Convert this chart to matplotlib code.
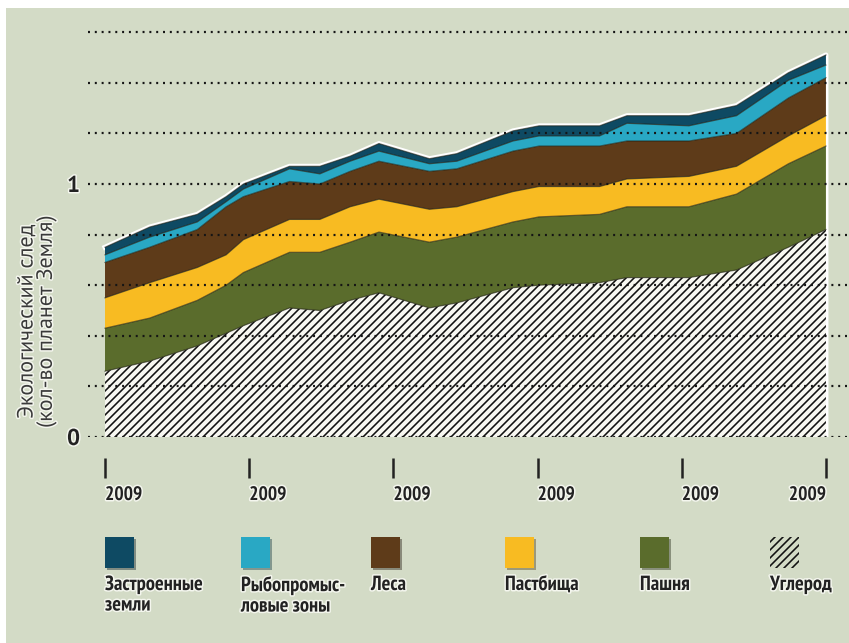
import numpy as np
import matplotlib
matplotlib.use('Agg')
import matplotlib.pyplot as plt
import matplotlib.patheffects as pe
from matplotlib.patches import Rectangle

# tick labels (all the same on the original)
years = ['2009'] * 6

# positions along the time axis (tick = 0..5)
x = [0.0, 0.31, 0.64, 0.84, 0.96, 1.28, 1.49, 1.70, 1.90, 2.25,
     2.44, 2.83, 3.01, 3.43, 3.62, 4.05, 4.38, 4.74, 5.0]

# layer thickness, planets (bottom -> top)
carbon = [0.26, 0.30, 0.36, 0.41, 0.44, 0.51, 0.50, 0.54, 0.57, 0.51,
          0.53, 0.59, 0.60, 0.61, 0.63, 0.63, 0.66, 0.75, 0.82]
cropland = [0.17, 0.17, 0.18, 0.19, 0.21, 0.22, 0.23, 0.23, 0.24, 0.26,
            0.26, 0.26, 0.27, 0.27, 0.28, 0.28, 0.30, 0.33, 0.33]
pasture = [0.12, 0.14, 0.13, 0.12, 0.13, 0.13, 0.13, 0.14, 0.13, 0.13,
           0.12, 0.12, 0.12, 0.11, 0.11, 0.12, 0.11, 0.11, 0.12]
forest = [0.14, 0.14, 0.15, 0.19, 0.17, 0.15, 0.14, 0.14, 0.15, 0.15,
          0.15, 0.16, 0.16, 0.16, 0.15, 0.14, 0.13, 0.15, 0.15]
fishing = [0.03, 0.04, 0.03, 0.02, 0.03, 0.05, 0.04, 0.04, 0.04, 0.03,
           0.03, 0.04, 0.04, 0.04, 0.07, 0.06, 0.07, 0.07, 0.05]
built = [0.03, 0.04, 0.03, 0.02, 0.02, 0.01, 0.03, 0.02, 0.03, 0.02,
         0.03, 0.04, 0.04, 0.04, 0.03, 0.04, 0.04, 0.03, 0.04]

names = ['Застроенные\nземли', 'Рыбопромыс-\nловые зоны', 'Леса',
         'Пастбища', 'Пашня', 'Углерод']
colors = ['#0e4a63', '#29a8c4', '#5e3b19', '#f8bb22', '#5a6c2c']

narrow = ['PT Sans Narrow', 'Roboto Condensed', 'DejaVu Sans']
plain = ['PT Sans', 'Open Sans', 'DejaVu Sans']
halo = [pe.withStroke(linewidth=3, foreground='#f4f6ee')]

plt.rcParams['hatch.linewidth'] = 1.6
plt.rcParams['hatch.color'] = '#111111'

W, H = 849, 643
fig = plt.figure(figsize=(W / 72, H / 72), dpi=72)
fig.patch.set_facecolor('white')
fig.patches.append(Rectangle((6 / W, 0), 1, (H - 8) / H, transform=fig.transFigure,
                             facecolor='#d3dbc6', edgecolor='none', zorder=-10))

ax = fig.add_axes([88 / W, 206 / H, 761 / W, 429 / H])
ax.set_facecolor('none')

layers = [carbon, cropland, pasture, forest, fishing, built]
tops = np.cumsum(np.array(layers), axis=0)
xa = np.array(x)

# white glow along the top of the stack
ax.plot(np.append(xa, xa[-1]), np.append(tops[-1], 0), color='white', lw=5,
        zorder=1, solid_joinstyle='round')

ax.fill_between(xa, 0, tops[0], facecolor='#f8f8f2', edgecolor='#111111',
                hatch='///', linewidth=0, zorder=2)
fill_cols = colors[::-1]
for i in range(1, 6):
    ax.fill_between(xa, tops[i - 1], tops[i], facecolor=fill_cols[i - 1],
                    linewidth=0, zorder=2)
for i in range(6):
    ax.plot(xa, tops[i], color='#1c1c10', lw=1.2, alpha=0.6, zorder=3)

# dotted gridlines
for v in np.arange(0, 1.61, 0.2):
    ax.axhline(v, color='#151515', lw=2.2, ls=(0, (0.9, 2.2)), zorder=5)

ax.set_xlim(-0.118, 5.16)
ax.set_ylim(0, 429 / 253)
for s in ax.spines.values():
    s.set_visible(False)
ax.spines['bottom'].set_position(('outward', 21))

ax.set_yticks([0, 1])
ax.set_yticklabels(['0', '1'], fontsize=23, fontweight='bold', family=plain,
                   color='#222222')
ax.tick_params(axis='y', length=0, pad=8)

ax.set_xticks(range(6))
ax.set_xticklabels(years, fontsize=19.5, fontweight='bold', family=narrow,
                   color='#222222')
ax.tick_params(axis='x', length=20, width=2.5, color='#222222', pad=8)
labs = ax.get_xticklabels()
for i, t in enumerate(labs):
    t.set_horizontalalignment('right' if i == len(labs) - 1 else 'left')
    t.set_path_effects(halo)
for t in ax.get_yticklabels():
    t.set_path_effects(halo)

fig.text(37 / W, (H - 321) / H, 'Экологический след\n(кол-во планет Земля)',
         rotation=90, ha='center', va='center', fontsize=22, color='#3a3a3a',
         family=plain, linespacing=1.0, path_effects=halo)

# legend
leg_x = [105, 241, 371, 505, 640, 770]
for i, name in enumerate(names):
    x0 = leg_x[i] / W
    if i < 5:
        r = Rectangle((x0, 1 - 568 / H), 29 / W, 31 / H, transform=fig.transFigure,
                      facecolor=colors[i], edgecolor='none',
                      path_effects=[pe.SimplePatchShadow(offset=(1.5, -1.5), alpha=0.4),
                                    pe.Normal()])
    else:
        r = Rectangle((x0, 1 - 568 / H), 29 / W, 31 / H, transform=fig.transFigure,
                      facecolor='none', edgecolor='#111111', hatch='///', linewidth=0)
    fig.add_artist(r)
    fig.text(x0, 1 - 575 / H, name, ha='left', va='top', fontsize=20.5,
             fontweight='bold', family=narrow, color='#222222',
             linespacing=1.1, path_effects=halo)

fig.savefig('out.png', dpi=72, facecolor=fig.get_facecolor())
